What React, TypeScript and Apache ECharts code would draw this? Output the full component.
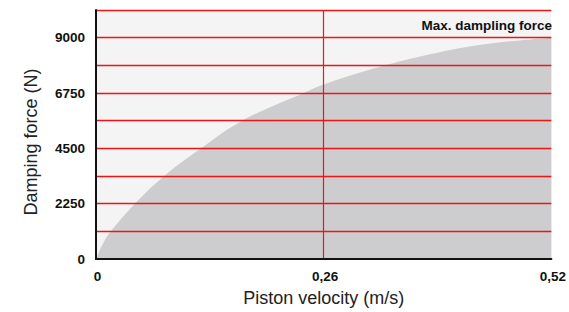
import React, { useEffect, useRef } from "react";
import * as echarts from "echarts";

// Piston velocity (m/s) and damping force (N)
const velocity = [0, 0.0075, 0.017, 0.0445, 0.078, 0.12, 0.167, 0.237, 0.26, 0.33, 0.39, 0.45, 0.52];
const force = [0, 590, 1125, 2250, 3375, 4500, 5625, 6750, 7100, 7875, 8390, 8760, 9000];

const xTicks = [0, 0.26, 0.52];
const yLabelValues = [0, 2250, 4500, 6750, 9000];
const yGridValues = [1125, 2250, 3375, 4500, 5625, 6750, 7875, 9000, 10125];
const yMax = 10125;
const yStep = 1125;
const markerLabel = "Max. dampling force";
const xName = "Piston velocity (m/s)";
const yName = "Damping force (N)";

export default function App() {
  const ref = useRef<HTMLDivElement>(null);
  useEffect(() => {
    if (!ref.current) return;
    document.body.style.margin = "0";
    const chart = echarts.init(ref.current, null, { renderer: "svg" });
    const font = "'Liberation Sans', Arial, sans-serif";
    const red = "#f01414";
    chart.setOption({
      animation: false,
      textStyle: { fontFamily: font },
      grid: {
        left: 96,
        right: 14,
        top: 10,
        bottom: 49,
        show: true,
        backgroundColor: "#f4f4f4",
        borderWidth: 0,
      },
      xAxis: {
        type: "value",
        min: xTicks[0],
        max: xTicks[2],
        interval: xTicks[1] - xTicks[0],
        name: xName,
        nameLocation: "middle",
        nameGap: 30,
        nameTextStyle: { fontSize: 18, color: "#222", fontFamily: font },
        axisLine: { show: true, lineStyle: { color: "#111", width: 2 } },
        axisTick: { show: false },
        axisLabel: {
          margin: 10,
          fontSize: 13.5,
          fontWeight: "bold",
          color: "#111",
          fontFamily: font,
          padding: [0, 0, 0, 3],
          formatter: (v: number) => (v === 0 ? "0" : v.toFixed(2).replace(".", ",")),
        },
        splitLine: { show: false },
        z: 10,
      },
      yAxis: {
        type: "value",
        min: 0,
        max: yMax,
        interval: yStep,
        axisLine: { show: true, lineStyle: { color: "#111", width: 2 } },
        axisTick: { show: false },
        axisLabel: {
          margin: 11,
          fontSize: 13.5,
          fontWeight: "bold",
          color: "#111",
          fontFamily: font,
          formatter: (v: number) => (yLabelValues.includes(v) ? String(v) : ""),
        },
        splitLine: { show: false },
        z: 10,
      },
      series: [
        {
          type: "line",
          data: velocity.map((v, i) => [v, force[i]]),
          smooth: 0.4,
          symbol: "none",
          lineStyle: { width: 0 },
          areaStyle: { color: "#cdcdcf", opacity: 1 },
          markLine: {
            silent: true,
            symbol: "none",
            label: { show: false },
            lineStyle: { color: red, width: 1.4, type: "solid", opacity: 1 },
            emphasis: { disabled: true },
            data: [
              ...yGridValues.map((y) => ({ yAxis: y })),
              { xAxis: xTicks[1], lineStyle: { width: 1.2 } },
            ],
          },
        },
      ],
      graphic: [
        {
          type: "text",
          right: 17,
          top: 18,
          style: {
            text: markerLabel,
            fontSize: 13.5,
            fontWeight: "bold",
            fill: "#111",
            fontFamily: font,
          },
          z: 10,
        },
        {
          type: "text",
          x: 31,
          y: 142,
          rotation: Math.PI / 2,
          style: {
            text: yName,
            fontSize: 18,
            fill: "#222",
            fontFamily: font,
            align: "center",
            verticalAlign: "middle",
          },
          z: 10,
        },
      ],
    });
    return () => chart.dispose();
  }, []);
  return <div ref={ref} style={{ width: 569, height: 312 }} />;
}
